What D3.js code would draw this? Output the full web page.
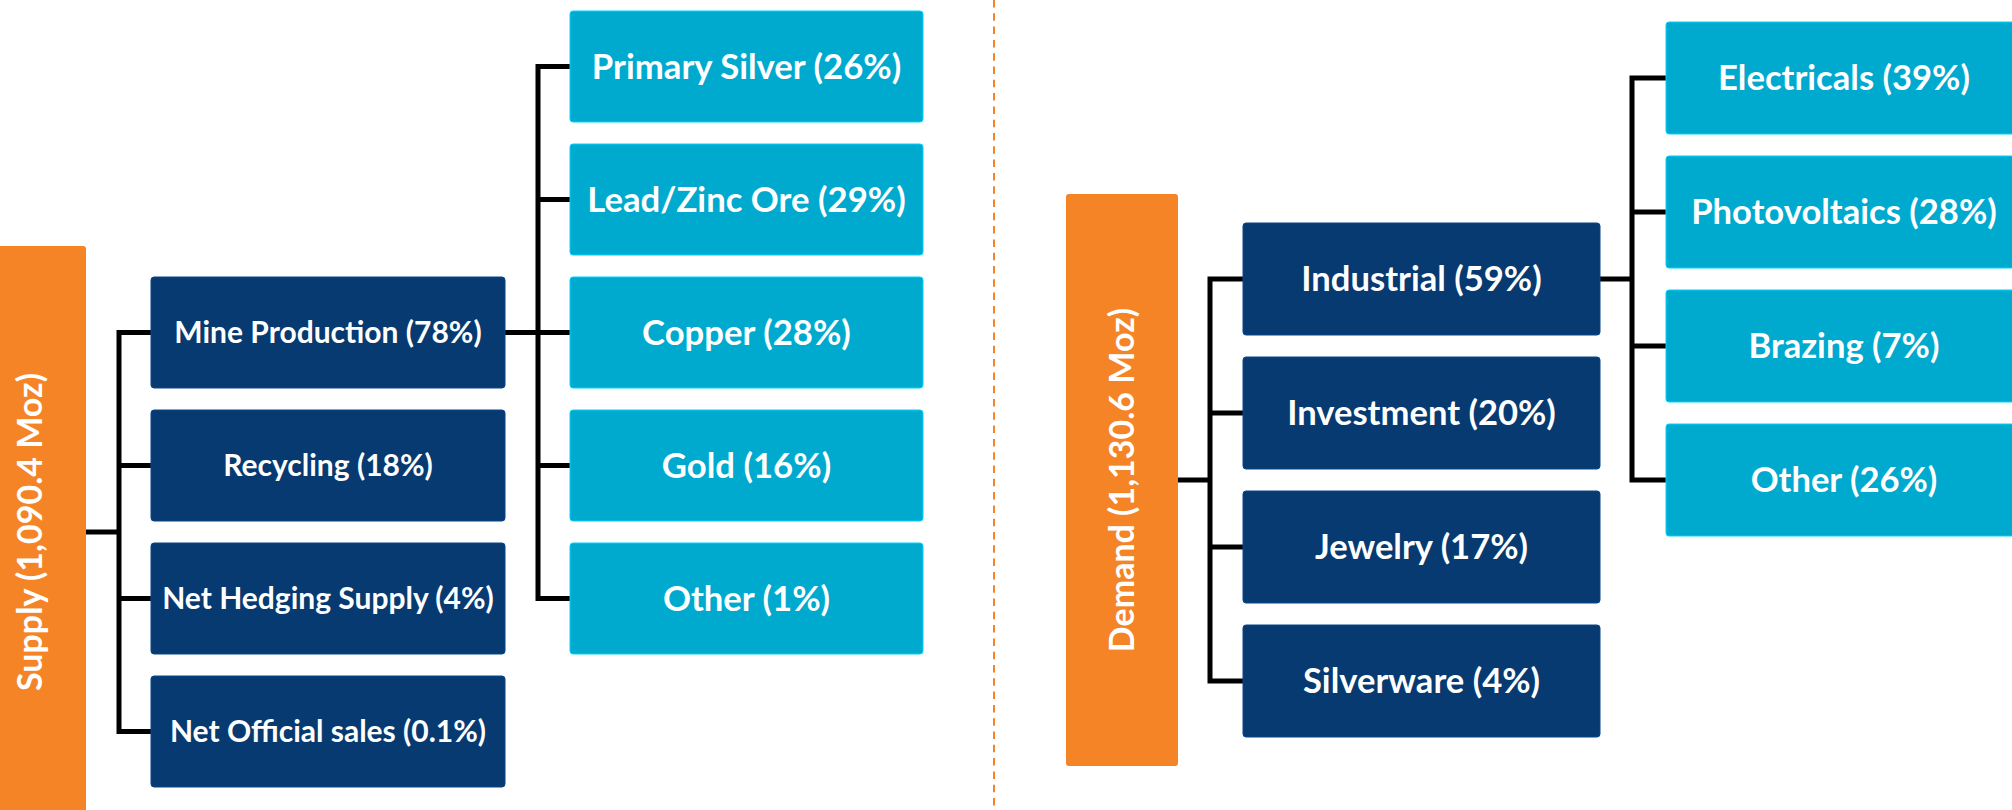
<!DOCTYPE html>
<html>
<head>
<meta charset="utf-8">
<script src="https://cdn.jsdelivr.net/npm/d3@7"></script>
<style>
  html, body { margin: 0; padding: 0; background: #ffffff; }
  svg { display: block; }
  text { font-family: Lato, "Open Sans", sans-serif; font-weight: 700; fill: #ffffff; }
</style>
</head>
<body>
<script>
// ---------- data ----------
const supplyTotal = 1090.4;           // Moz
const demandTotal = 1130.6;           // Moz
const supplyCategories = ["Mine Production", "Recycling", "Net Hedging Supply", "Net Official sales"];
const supplyShares     = [78, 18, 4, 0.1];
const mineSources      = ["Primary Silver", "Lead/Zinc Ore", "Copper", "Gold", "Other"];
const mineShares       = [26, 29, 28, 16, 1];
const demandCategories = ["Industrial", "Investment", "Jewelry", "Silverware"];
const demandShares     = [59, 20, 17, 4];
const industrialUses   = ["Electricals", "Photovoltaics", "Brazing", "Other"];
const industrialShares = [39, 28, 7, 26];

// ---------- style ----------
const W = 2012, H = 810;
const ORANGE = "#F48426", NAVY = "#063A70", CYAN = "#00AACF";
const fmtTotal = d3.format(",.1f");
const pct = v => `(${v}%)`;

const svg = d3.select("body").append("svg").attr("width", W).attr("height", H);

// row scales (linear index -> top of box)
const ySupply = d3.scaleLinear().domain([0, 1]).range([11, 144]);
const supplyBoxH = 111;
const yDemand = d3.scaleLinear().domain([0, 1]).range([22, 156]);
const demandBoxH = 112;

// column scales
const xSupply = d3.scaleOrdinal().domain(["root", "l1", "l2"]).range([-26, 151, 570]);
const xDemand = d3.scaleOrdinal().domain(["root", "l1", "l2"]).range([1066, 1243, 1666]);
const rootW = 112, boxW = 355;

const lineG = svg.append("g").attr("class", "links");
const boxG = svg.append("g").attr("class", "boxes");

function drawBox(x, y, w, h, fill, label, size) {
  const g = boxG.append("g");
  g.append("rect")
    .attr("x", x).attr("y", y).attr("width", w).attr("height", h)
    .attr("rx", 3).attr("ry", 3)
    .attr("fill", fill)
    .attr("stroke", d3.color(fill).brighter(0.6)).attr("stroke-width", 1);
  g.append("text")
    .attr("x", x + w / 2).attr("y", y + h / 2)
    .attr("dy", "0.36em")
    .attr("text-anchor", "middle")
    .style("font-size", size + "px")
    .text(label);
}

function drawRoot(x, yTop, h, label, size) {
  const cx = x + rootW / 2, cy = yTop + h / 2;
  boxG.append("rect")
    .attr("x", x).attr("y", yTop).attr("width", rootW).attr("height", h)
    .attr("rx", 3).attr("fill", ORANGE);
  boxG.append("text")
    .attr("transform", `translate(${cx},${cy}) rotate(-90)`)
    .attr("dy", "0.36em")
    .attr("text-anchor", "middle")
    .style("font-size", size + "px")
    .text(label);
}

// elbow connector: from parent right edge to a vertical spine, then to children
function connect(px, py, spineX, childX, childYs) {
  const y0 = d3.min(childYs), y1 = d3.max(childYs);
  lineG.append("line").attr("x1", px).attr("y1", py).attr("x2", spineX).attr("y2", py);
  lineG.append("path")
    .attr("d", `M${childX},${y0}H${spineX}V${y1}H${childX}`)
    .attr("fill", "none");
  childYs.slice(1, -1).forEach(cy => {
    lineG.append("line").attr("x1", spineX).attr("y1", cy).attr("x2", childX).attr("y2", cy);
  });
}
lineG.attr("stroke", "#000").attr("stroke-width", 5).attr("stroke-linejoin", "miter");

// ---------- SUPPLY ----------
const supL1Idx = supplyCategories.map((d, i) => i + 2);
const supL2Idx = mineSources.map((d, i) => i);
const supL1Cy = supL1Idx.map(i => ySupply(i) + supplyBoxH / 2);
const supL2Cy = supL2Idx.map(i => ySupply(i) + supplyBoxH / 2);
const supRootH = 572;
const supRootTop = (ySupply(supL1Idx[0]) + ySupply(supL1Idx[supL1Idx.length - 1]) + supplyBoxH) / 2 - supRootH / 2;

drawRoot(xSupply("root"), supRootTop, supRootH, `Supply (${fmtTotal(supplyTotal)} Moz)`, 34);
supplyCategories.forEach((c, i) =>
  drawBox(xSupply("l1"), ySupply(supL1Idx[i]), boxW - 1, supplyBoxH, NAVY, `${c} ${pct(supplyShares[i])}`, 30));
mineSources.forEach((c, i) =>
  drawBox(xSupply("l2"), ySupply(supL2Idx[i]), boxW - 2, supplyBoxH, CYAN, `${c} ${pct(mineShares[i])}`, 34.7));

connect(xSupply("root") + rootW, supRootTop + supRootH / 2, 119, xSupply("l1"), supL1Cy);
connect(xSupply("l1") + boxW - 1, supL1Cy[0], 538, xSupply("l2"), supL2Cy);

// ---------- divider ----------
svg.append("line")
  .attr("x1", 994).attr("x2", 994).attr("y1", 0).attr("y2", H)
  .attr("stroke", ORANGE).attr("stroke-width", 2)
  .attr("stroke-dasharray", "7.5,5.8");

// ---------- DEMAND ----------
const demL1Idx = demandCategories.map((d, i) => i + 1.5);
const demL2Idx = industrialUses.map((d, i) => i);
const demL1Cy = demL1Idx.map(i => yDemand(i) + demandBoxH / 2);
const demL2Cy = demL2Idx.map(i => yDemand(i) + demandBoxH / 2);
const demRootH = 572;
const demRootTop = (yDemand(demL1Idx[0]) + yDemand(demL1Idx[demL1Idx.length - 1]) + demandBoxH) / 2 - demRootH / 2;

drawRoot(xDemand("root"), demRootTop, demRootH, `Demand (${fmtTotal(demandTotal)} Moz)`, 34);
demandCategories.forEach((c, i) =>
  drawBox(xDemand("l1"), yDemand(demL1Idx[i]), boxW + 2, demandBoxH, NAVY, `${c} ${pct(demandShares[i])}`, 34.6));
industrialUses.forEach((c, i) =>
  drawBox(xDemand("l2"), yDemand(demL2Idx[i]), boxW + 1, demandBoxH, CYAN, `${c} ${pct(industrialShares[i])}`, 34.6));

connect(xDemand("root") + rootW, demRootTop + demRootH / 2, 1210, xDemand("l1"), demL1Cy);
connect(xDemand("l1") + boxW + 2, demL1Cy[0], 1632, xDemand("l2"), demL2Cy);
</script>
</body>
</html>
